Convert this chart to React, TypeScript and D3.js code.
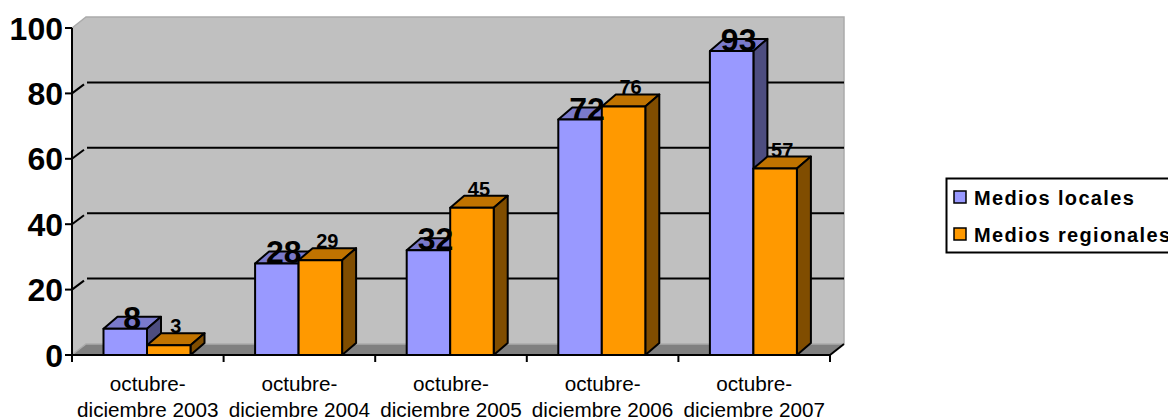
import * as d3 from 'd3'

const periods = ['2003', '2004', '2005', '2006', '2007']
const localValues = [8, 28, 32, 72, 93]
const regionalValues = [3, 29, 45, 76, 57]
const yTicks = [0, 20, 40, 60, 80, 100]
const seriesNames = ['Medios locales', 'Medios regionales']

const FONT = '"Liberation Sans", Arial, sans-serif'
const W = 1168
const H = 419
// depth of the bars and of the walls is not quite the same in the source
const DX = 14
const DY = -12
const WALL_DX = 14
const WALL_DY = -11

const palette = [
  { front: '#9999FF', top: '#7A7ACC', side: '#4D4D80' },
  { front: '#FF9900', top: '#C07300', side: '#804D00' },
]

const x = d3.scaleBand<string>().domain(periods).range([72, 830]).paddingInner(0).paddingOuter(0)
const groupWidth = 87
const xInner = d3
  .scaleBand<string>()
  .domain(['0', '1'])
  .range([(x.bandwidth() - groupWidth) / 2 - 0.8, (x.bandwidth() + groupWidth) / 2 - 0.8])
const y = d3.scaleLinear().domain([0, 100]).range([355, 28])

const poly = (pts: [number, number][]) => pts.map(p => p.join(',')).join(' ')

function Bar({ px, py, w, colors }: { px: number; py: number; w: number; colors: (typeof palette)[0] }) {
  const base = y(0)
  return (
    <g stroke="#000" strokeWidth={2} strokeLinejoin="round">
      <polygon points={poly([[px, py], [px + DX, py + DY], [px + w + DX, py + DY], [px + w, py]])} fill={colors.top} />
      <polygon points={poly([[px + w, py], [px + w + DX, py + DY], [px + w + DX, base + DY], [px + w, base]])} fill={colors.side} />
      <rect x={px} y={py} width={w} height={base - py} fill={colors.front} />
    </g>
  )
}

export default function App() {
  const x0 = x.range()[0]
  const x1 = x.range()[1]
  const series = [localValues, regionalValues]
  const bounds = [...periods.map(p => x(p) as number), x1]
  const topY = y(100)
  const baseY = y(0)

  return (
    <svg
      width={W}
      height={H}
      viewBox={`0 0 ${W} ${H}`}
      style={{ position: 'absolute', left: 0, top: 0, fontFamily: FONT }}
    >
      {/* walls */}
      <polygon
        points={poly([[x0, topY], [x0 + WALL_DX, topY + WALL_DY], [x1 + WALL_DX, topY + WALL_DY], [x1 + WALL_DX, baseY + WALL_DY], [x0 + WALL_DX, baseY + WALL_DY], [x0, baseY]])}
        fill="#C0C0C0"
      />
      <polyline
        points={poly([[x0, topY], [x0 + WALL_DX, topY + WALL_DY], [x1 + WALL_DX, topY + WALL_DY], [x1 + WALL_DX, baseY + WALL_DY]])}
        fill="none"
        stroke="#ABABAB"
        strokeWidth={1.5}
      />
      <polygon
        points={poly([[x0, baseY], [x0 + WALL_DX, baseY + WALL_DY], [x1 + WALL_DX, baseY + WALL_DY], [x1, baseY]])}
        fill="#808080"
      />
      <polyline
        points={poly([[x0 + 1, baseY - 1], [x0 + WALL_DX, baseY + WALL_DY], [x1 + WALL_DX, baseY + WALL_DY]])}
        fill="none"
        stroke="#ABABAB"
        strokeWidth={1.5}
      />

      {/* gridlines */}
      {yTicks.filter(t => t > 0 && t < 100).map(t => (
        <g key={t} stroke="#000" strokeWidth={2}>
          <line x1={x0} x2={x0 + WALL_DX - 2} y1={y(t)} y2={y(t) + WALL_DY + 2} />
          <line x1={x0 + WALL_DX + 1} x2={x1 + WALL_DX} y1={y(t) + WALL_DY} y2={y(t) + WALL_DY} />
        </g>
      ))}

      {/* axes */}
      <g stroke="#000" strokeWidth={2}>
        <line x1={x0} x2={x0} y1={topY} y2={baseY + 7} />
        <line x1={x0} x2={x1} y1={baseY} y2={baseY} />
        <line x1={x1} x2={x1 + WALL_DX} y1={baseY} y2={baseY + WALL_DY} />
        {yTicks.map(t => (
          <line key={t} x1={x0 - 7} x2={x0} y1={y(t)} y2={y(t)} />
        ))}
        {bounds.map(b => (
          <line key={b} x1={b} x2={b} y1={baseY} y2={baseY + 7} />
        ))}
      </g>

      {yTicks.map(t => (
        <text key={t} x={x0 - 9} y={y(t) + 11.5} textAnchor="end" fontSize={32} fontWeight="bold" fill="#000">
          {t}
        </text>
      ))}

      {periods.map(p => (
        <text key={p} textAnchor="middle" fontSize={20.7} fill="#000">
          <tspan x={(x(p) as number) + x.bandwidth() / 2} y={391}>octubre-</tspan>
          <tspan x={(x(p) as number) + x.bandwidth() / 2} y={417}>{`diciembre ${p}`}</tspan>
        </text>
      ))}

      {/* bars */}
      {periods.map((p, i) =>
        series.map((vals, s) => (
          <Bar
            key={`${p}-${s}`}
            px={(x(p) as number) + (xInner(String(s)) as number)}
            py={y(vals[i])}
            w={xInner.bandwidth()}
            colors={palette[s]}
          />
        ))
      )}

      {/* value labels */}
      {periods.map((p, i) => (
        <g key={p} textAnchor="middle" fontWeight="bold" fill="#000">
          <text
            x={(x(p) as number) + (xInner('0') as number) + xInner.bandwidth() / 2 + 7}
            y={y(localValues[i])}
            fontSize={32}
          >
            {localValues[i]}
          </text>
          <text
            x={(x(p) as number) + (xInner('1') as number) + xInner.bandwidth() / 2 + 7}
            y={y(regionalValues[i]) + DY}
            fontSize={20}
          >
            {regionalValues[i]}
          </text>
        </g>
      ))}

      {/* legend, runs past the right edge as in the source */}
      <rect x={946.5} y={178.5} width={240} height={74} fill="#fff" stroke="#000" strokeWidth={2} />
      {seriesNames.map((name, s) => (
        <g key={name}>
          <rect x={954} y={191 + s * 37} width={12} height={12} fill={palette[s].front} stroke="#000" strokeWidth={1.5} />
          <text x={974} y={205 + s * 37} fontSize={20} fontWeight="bold" letterSpacing={1.35} fill="#000">
            {name}
          </text>
        </g>
      ))}
    </svg>
  )
}
